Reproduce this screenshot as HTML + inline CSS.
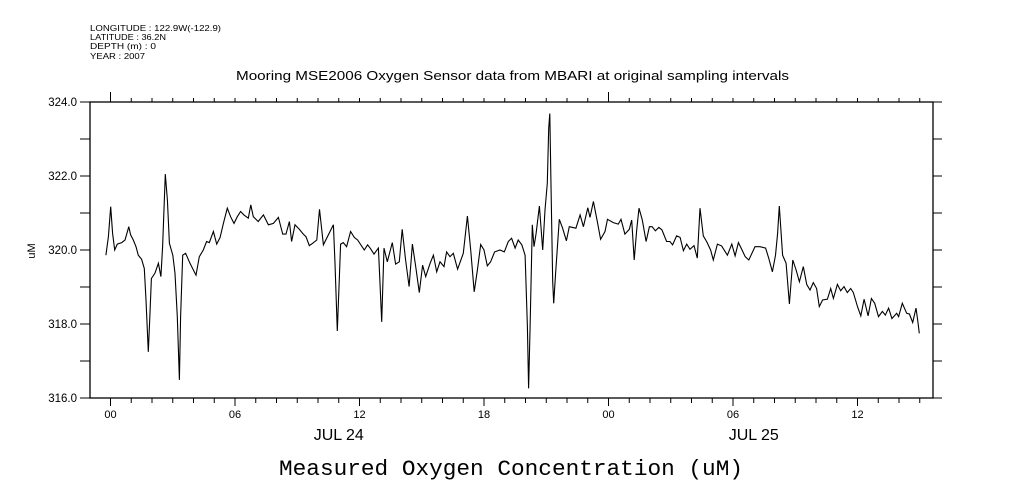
<!DOCTYPE html>
<html><head><meta charset="utf-8"><style>
html,body{margin:0;padding:0;background:#fff;}
svg{display:block;}
text{font-family:"Liberation Sans",sans-serif;fill:#000;}
</style></head><body>
<svg id="chart" width="1009" height="504" viewBox="0 0 1009 504" xmlns="http://www.w3.org/2000/svg">
<g font-size="8.5">
<text x="90" y="31" textLength="131" lengthAdjust="spacingAndGlyphs">LONGITUDE : 122.9W(-122.9)</text>
<text x="90" y="40" textLength="76" lengthAdjust="spacingAndGlyphs">LATITUDE : 36.2N</text>
<text x="90" y="49" textLength="66" lengthAdjust="spacingAndGlyphs">DEPTH (m) : 0</text>
<text x="90" y="59" textLength="55" lengthAdjust="spacingAndGlyphs">YEAR : 2007</text>
</g>
<text x="236" y="80" font-size="12.5" textLength="553" lengthAdjust="spacingAndGlyphs">Mooring MSE2006 Oxygen Sensor data from MBARI at original sampling intervals</text>
<text transform="translate(35,251) rotate(-90)" text-anchor="middle" font-size="11">uM</text>
<text x="511" y="475" text-anchor="middle" style="font-family:'Liberation Mono',monospace" font-size="22.5" textLength="464" lengthAdjust="spacingAndGlyphs">Measured Oxygen Concentration (uM)</text>
<g id="axes"></g>
<g id="series"></g>
</svg>
<script>
const times=[-0.22,-0.10,0.01,0.10,0.20,0.33,0.54,0.70,0.88,0.97,1.10,1.23,1.34,1.50,1.63,1.71,1.82,1.89,1.97,2.14,2.31,2.43,2.51,2.64,2.74,2.84,3.00,3.11,3.22,3.32,3.38,3.48,3.62,3.83,4.12,4.28,4.47,4.63,4.76,4.96,5.12,5.28,5.44,5.63,5.79,5.95,6.11,6.27,6.43,6.64,6.76,6.88,7.12,7.37,7.61,7.85,8.09,8.30,8.46,8.62,8.73,8.89,9.10,9.29,9.42,9.58,9.74,9.94,10.07,10.26,10.74,10.82,10.93,11.03,11.09,11.22,11.38,11.57,11.75,11.91,12.23,12.39,12.51,
12.70,12.91,12.99,13.07,13.18,13.34,13.58,13.74,13.92,14.06,14.22,14.39,14.55,14.71,14.88,15.04,15.19,15.40,15.56,15.72,15.88,16.07,16.20,16.36,16.52,16.73,17.00,17.20,17.36,17.53,17.68,17.84,18.00,18.16,18.32,18.51,18.77,18.98,19.17,19.33,19.50,19.65,19.82,19.98,20.09,20.15,20.22,20.33,20.41,20.51,20.67,20.83,20.94,21.05,21.12,21.17,21.23,21.31,21.36,21.45,21.63,21.79,21.97,22.11,22.43,22.63,22.79,23.00,23.11,23.27,23.46,23.62,23.83,23.95,24.23,24.47,24.60,24.79,25.00,25.12,25.24,25.36,25.47,25.63,25.81,25.97,
26.10,26.26,26.43,26.58,26.80,26.96,27.09,27.28,27.45,27.61,27.77,27.93,28.12,28.28,28.41,28.57,28.73,28.92,29.05,29.25,29.45,29.73,29.94,30.10,30.26,30.42,30.59,30.76,31.06,31.30,31.57,31.72,31.90,32.05,32.15,32.23,32.39,32.56,32.72,32.88,33.04,33.20,33.39,33.55,33.71,33.87,34.03,34.16,34.32,34.55,34.71,34.84,35.03,35.19,35.35,35.51,35.67,35.80,36.00,36.16,36.32,36.51,36.67,36.83,37.01,37.20,37.34,37.50,37.66,37.89,37.98,38.16,38.37,38.50,38.66,38.82,38.91,38.98];
const oxygen=[319.86,320.36,321.17,320.45,320.00,320.16,320.20,320.27,320.63,320.41,320.27,320.09,319.86,319.75,319.50,318.65,317.25,318.11,319.23,319.37,319.64,319.28,320.09,322.05,321.35,320.18,319.86,319.37,318.20,316.49,318.20,319.86,319.91,319.64,319.32,319.82,320.00,320.23,320.20,320.50,320.16,320.34,320.72,321.13,320.90,320.72,320.90,321.04,320.95,320.86,321.22,320.90,320.77,320.95,320.68,320.72,320.88,320.43,320.43,320.77,320.23,320.68,320.56,320.43,320.36,320.12,320.18,320.27,321.10,320.14,320.68,319.64,317.81,319.28,320.16,320.20,320.09,320.50,320.34,320.27,320.00,320.14,320.05,
319.89,320.05,319.10,318.06,320.05,319.68,320.20,319.62,319.68,320.56,319.73,319.01,320.16,319.55,318.85,319.59,319.28,319.64,319.86,319.41,319.68,319.55,319.95,319.82,319.91,319.48,319.91,320.92,320.00,318.87,319.46,320.15,320.00,319.57,319.68,319.95,320.00,319.95,320.23,320.32,320.05,320.27,320.14,319.86,317.93,316.26,317.93,320.68,320.09,320.45,321.19,320.00,321.08,321.80,323.29,323.69,321.75,319.14,318.56,319.37,320.83,320.59,320.25,320.63,320.59,320.95,320.63,321.14,320.88,321.31,320.77,320.29,320.50,320.83,320.74,320.70,320.83,320.43,320.56,320.81,319.73,320.54,321.13,320.81,320.23,320.63,
320.63,320.52,320.61,320.54,320.23,320.23,320.14,320.38,320.34,319.98,320.16,320.02,320.12,319.78,321.13,320.38,320.23,320.00,319.73,320.16,320.11,319.86,320.16,319.84,320.20,320.02,319.82,319.73,320.09,320.09,320.05,319.78,319.41,319.86,320.45,321.19,319.86,319.64,318.54,319.73,319.46,319.14,319.55,319.07,318.92,319.12,318.96,318.47,318.65,318.67,318.96,318.69,319.07,318.90,319.01,318.85,318.96,318.85,318.47,318.22,318.67,318.22,318.69,318.56,318.20,318.34,318.24,318.43,318.15,318.29,318.20,318.56,318.29,318.27,318.04,318.43,318.06,317.75];
const yTickLabels=["324.0","322.0","320.0","318.0","316.0"];
const xTickLabels=["00","06","12","18","00","06","12"];
const dateLabels=["JUL 24","JUL 25"];
const dateHours=[11,31];

const L=90,R=933,T=102,B=398,H0=110.5,PXH=20.75,YMIN=316,YMAX=324;
const xs=h=>H0+h*PXH;
const ys=v=>B-(v-YMIN)*(B-T)/(YMAX-YMIN);
const NS="http://www.w3.org/2000/svg";
function mk(tag,attrs,parent){const e=document.createElementNS(NS,tag);for(const k in attrs)e.setAttribute(k,attrs[k]);parent.appendChild(e);return e;}
const axes=document.getElementById('axes');
let fr=mk('rect',{x:L,y:T,width:R-L,height:B-T,fill:'none',stroke:'#000','stroke-width':1.3},axes);


for(let h=0;h<=39;h++){
  const x=xs(h), major=(h%6===0);
  let t=mk('line',{x1:x,x2:x,y1:B,y2:B+(major?8:5),stroke:'#000','stroke-width':1},axes);
  
  
  let t2=mk('line',{x1:x,x2:x,y1:T,y2:T-(h%24===0?10:4),stroke:'#000','stroke-width':1},axes);
  
  
}
xTickLabels.forEach((s,i)=>{
  let t=mk('text',{x:xs(i*6),y:418,'text-anchor':'middle','font-size':11},axes);
  t.textContent=s;
  
  
});
dateLabels.forEach((s,i)=>{
  let t=mk('text',{x:xs(dateHours[i]),y:440,'text-anchor':'middle','font-size':16},axes);
  t.textContent=s;
  
  
});
for(let v=YMIN;v<=YMAX;v++){
  const y=ys(v);
  let a=mk('line',{x1:L-10,x2:L,y1:y,y2:y,stroke:'#000','stroke-width':1},axes);
  
  
  let b=mk('line',{x1:R,x2:R+9,y1:y,y2:y,stroke:'#000','stroke-width':1},axes);
  
  
}
yTickLabels.forEach(s=>{
  let t=mk('text',{x:77,y:ys(parseFloat(s))+4,'text-anchor':'end','font-size':11.5},axes);
  t.textContent=s;
  
  
});
const series=document.getElementById('series');
let d=times.map((h,i)=>(i?'L':'M')+xs(h).toFixed(1)+','+ys(oxygen[i]).toFixed(1)).join('');
let p=mk('path',{d:d,fill:'none',stroke:'#000','stroke-width':1.1},series);


</script>
</body></html>
